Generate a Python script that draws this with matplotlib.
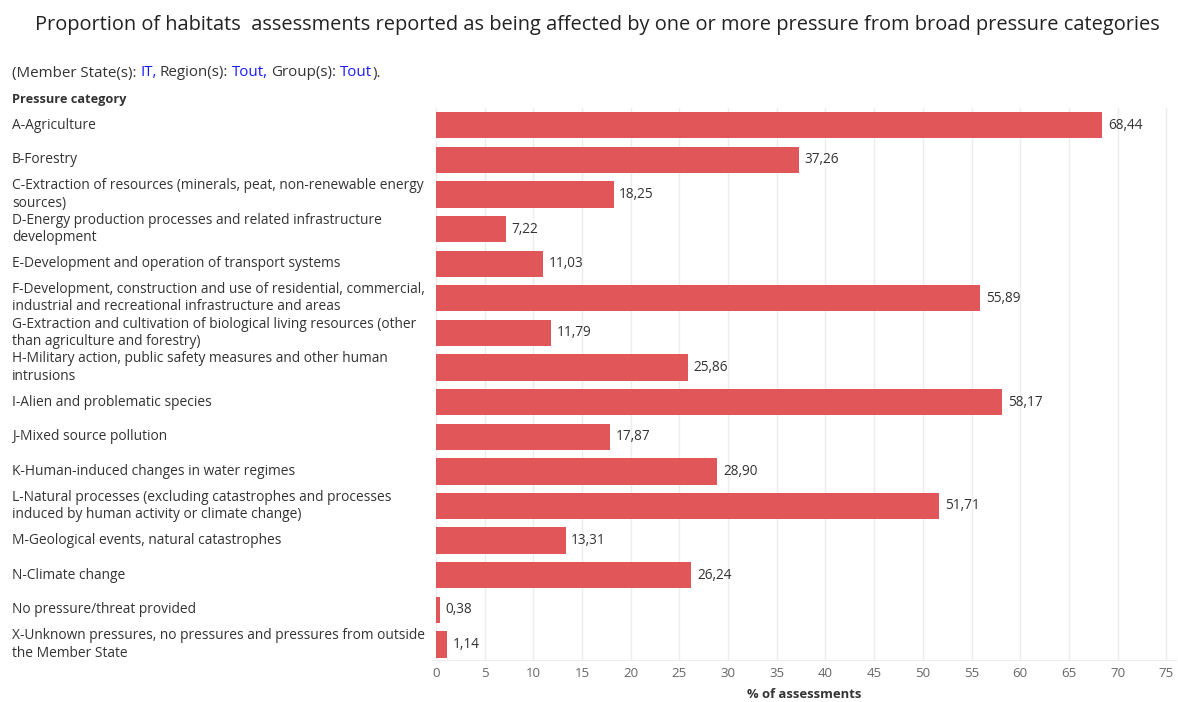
import matplotlib
import matplotlib.pyplot as plt
from matplotlib.transforms import blended_transform_factory

matplotlib.use("Agg")

# data
categories = [
    "A-Agriculture",
    "B-Forestry",
    "C-Extraction of resources (minerals, peat, non-renewable energy\nsources)",
    "D-Energy production processes and related infrastructure\ndevelopment",
    "E-Development and operation of transport systems",
    "F-Development, construction and use of residential, commercial,\nindustrial and recreational infrastructure and areas",
    "G-Extraction and cultivation of biological living resources (other\nthan agriculture and forestry)",
    "H-Military action, public safety measures and other human\nintrusions",
    "I-Alien and problematic species",
    "J-Mixed source pollution",
    "K-Human-induced changes in water regimes",
    "L-Natural processes (excluding catastrophes and processes\ninduced by human activity or climate change)",
    "M-Geological events, natural catastrophes",
    "N-Climate change",
    "No pressure/threat provided",
    "X-Unknown pressures, no pressures and pressures from outside\nthe Member State",
]
values = [68.44, 37.26, 18.25, 7.22, 11.03, 55.89, 11.79, 25.86,
          58.17, 17.87, 28.90, 51.71, 13.31, 26.24, 0.38, 1.14]
x_ticks = list(range(0, 80, 5))

RED = "#E15759"
DARK = "#333333"
GRAY = "#666666"
BLUE = "#1A1AFF"

plt.rcParams["font.family"] = ["Open Sans", "DejaVu Sans"]

W, H = 1178, 702
fig = plt.figure(figsize=(W / 100, H / 100), dpi=100)
fig.patch.set_facecolor("white")

left, right = 433 / W, 1176 / W
top, bottom = 1 - 108 / H, 1 - 660 / H
ax = fig.add_axes([left, bottom, right - left, top - bottom])

y = list(range(len(values)))
bars = ax.barh(y, values, height=0.76, color=RED, edgecolor="none", zorder=3)

ax.set_xlim(-0.3, 76)
ax.set_ylim(15.45, -0.5)
ax.set_xticks(x_ticks)
ax.set_xticklabels([str(t) for t in x_ticks], color=GRAY, fontsize=9.5)
ax.tick_params(axis="x", length=0, pad=5)
ax.set_yticks([])
ax.grid(axis="x", color="#EDEDED", linewidth=1.0, zorder=0)
for s in ["top", "right", "left"]:
    ax.spines[s].set_visible(False)
ax.spines["bottom"].set_color("#EDEDED")

ax.bar_label(bars, labels=[f"{v:.2f}".replace(".", ",") for v in values],
             padding=4, color=DARK, fontsize=9.8)

fig.text(804 / W, 1 - 695 / H, "% of assessments", fontsize=9.4, fontweight="bold",
         color=DARK, ha="center", va="center")

# category labels on the left
trans = blended_transform_factory(fig.transFigure, ax.transData)
for i, lab in enumerate(categories):
    ax.text(12 / W, i, lab, transform=trans, ha="left", va="center",
            fontsize=9.9, color=DARK, linespacing=1.2, clip_on=False)

fig.text(12 / W, 1 - 100 / H, "Pressure category", fontsize=9.2, fontweight="bold",
         color=DARK, va="center")

# title
fig.text(597 / W, 1 - 25 / H,
         "Proportion of habitats  assessments reported as being affected by one or more pressure from broad pressure categories",
         fontsize=14.4, color="#222222", ha="center", va="center")

# subtitle with coloured parts (segment, colour, gap after it in px)
SUB = 10.9
parts = [("(Member State(s):", DARK, 3.5), ("IT,", BLUE, 3.5), ("Region(s):", DARK, 3.5),
         ("Tout,", BLUE, 3.5), ("Group(s):", DARK, 3.5), ("Tout", BLUE, 0.5), (").", DARK, 0)]

renderer = fig.canvas.get_renderer()
x_px = 12
for seg, col, gap in parts:
    t = fig.text(x_px / W, 1 - 73 / H, seg, fontsize=SUB, color=col, va="center")
    x_px += t.get_window_extent(renderer).width + gap

fig.savefig("out.png", dpi=100, facecolor="white")
